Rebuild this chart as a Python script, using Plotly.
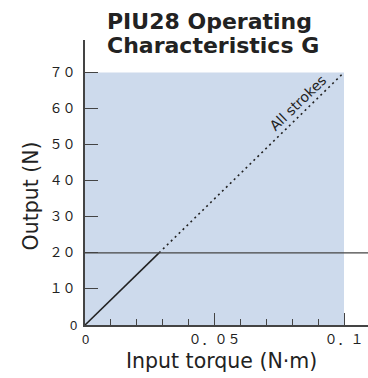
import plotly.graph_objects as go

# Operating characteristic: output force vs input torque (linear, all strokes)
torque_solid = [0.0, 0.0286]
output_solid = [0.0, 20.0]
torque_dotted = [0.0286, 0.1]
output_dotted = [20.0, 70.0]

# Rated output level and operating region
limit_output = 20.0
region_torque = [0.0, 0.1]
region_output = [0.0, 70.0]

# Axis ticks and labels
y_tick_vals = [10, 20, 30, 40, 50, 60, 70]
y_tick_text = ["１０", "２０", "３０", "４０", "５０", "６０", "７０"]
x_tick_vals = [0.05, 0.1]
x_tick_text = ["０．０５", "０．１"]

W, H = 368, 378
ML, MR, MT, MB = 85, 0, 40, 53
PW, PH = W - ML - MR, H - MT - MB


def px_x(p):
    return (p - ML) / PW


def px_y(p):
    return (H - MB - p) / PH


AXIS = "#444444"
INK = "#222222"

fig = go.Figure()

fig.add_trace(go.Scatter(
    x=torque_solid, y=output_solid, mode="lines",
    line=dict(color=INK, width=1.6), hoverinfo="skip", showlegend=False,
))
fig.add_trace(go.Scatter(
    x=torque_dotted, y=output_dotted, mode="lines",
    line=dict(color=INK, width=1.6, dash="2px,3.5px"), hoverinfo="skip", showlegend=False,
))

# shaded operating region
fig.add_shape(
    type="rect", xref="x", yref="y",
    x0=region_torque[0], x1=region_torque[1],
    y0=region_output[0], y1=region_output[1],
    fillcolor="#cddaec", line=dict(width=0), layer="below",
)
# rated output line
fig.add_shape(
    type="line", xref="x domain", yref="y",
    x0=0, x1=1, y0=limit_output, y1=limit_output,
    line=dict(color=AXIS, width=1.4), layer="above",
)

annotations = [
    dict(text="<b>PIU28 Operating</b>", x=px_x(105), y=px_y(21.5),
         xanchor="left", yanchor="middle",
         font=dict(family="DejaVu Sans", size=22, color=INK)),
    dict(text="<b>Characteristics G</b>", x=px_x(105), y=px_y(45),
         xanchor="left", yanchor="middle",
         font=dict(family="DejaVu Sans", size=22, color=INK)),
    dict(text="Input torque (N·m)", x=px_x(221), y=px_y(360.5),
         xanchor="center", yanchor="middle",
         font=dict(family="DejaVu Sans", size=20.5, color=INK)),
    dict(text="Output (N)", x=px_x(30.5), y=px_y(196), textangle=-90,
         xanchor="center", yanchor="middle",
         font=dict(family="DejaVu Sans", size=20.5, color=INK)),
    dict(text="0", x=px_x(73), y=px_y(325),
         xanchor="center", yanchor="middle",
         font=dict(family="Liberation Sans", size=13, color=INK)),
    dict(text="0", x=px_x(85), y=px_y(339),
         xanchor="center", yanchor="middle",
         font=dict(family="Liberation Sans", size=13, color=INK)),
    dict(text="All strokes", x=0.0822, y=61.5, xref="x", yref="y",
         textangle=-44, xanchor="center", yanchor="middle",
         font=dict(family="DejaVu Sans", size=14, color=INK)),
]
for a in annotations:
    a.setdefault("xref", "paper")
    a.setdefault("yref", "paper")
    a["showarrow"] = False

fig.update_layout(
    width=W, height=H,
    margin=dict(l=ML, r=MR, t=MT, b=MB, pad=0),
    paper_bgcolor="white", plot_bgcolor="white",
    showlegend=False,
    annotations=annotations,
    xaxis=dict(
        range=[0, region_torque[1] * (PW / 259.0)],
        showgrid=False, zeroline=False,
        showline=True, linecolor=AXIS, linewidth=1.6,
        ticks="inside", ticklen=12, tickwidth=1.4, tickcolor=AXIS,
        tickvals=x_tick_vals, ticktext=x_tick_text,
        ticklabelstandoff=2,
        tickfont=dict(family="Noto Sans CJK JP", size=13, color=INK),
        minor=dict(dtick=0.01, tick0=0, ticks="inside", ticklen=6,
                   tickwidth=1.4, tickcolor=AXIS, showgrid=False),
        fixedrange=True,
    ),
    yaxis=dict(
        range=[0, 79],
        showgrid=False, zeroline=False,
        showline=True, linecolor=AXIS, linewidth=1.6,
        ticks="inside", ticklen=13, tickwidth=1.4, tickcolor=AXIS,
        tickvals=y_tick_vals, ticktext=y_tick_text,
        ticklabelstandoff=5,
        tickfont=dict(family="Noto Sans CJK JP", size=13, color=INK),
        fixedrange=True,
    ),
)

fig.write_html("out.html", config={"displayModeBar": False})
